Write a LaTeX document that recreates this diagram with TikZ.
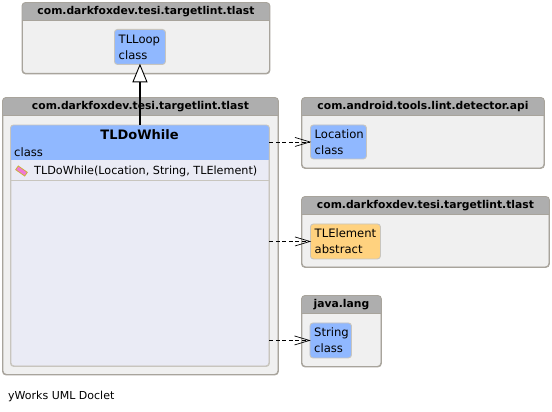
\documentclass[tikz,border=0pt]{standalone}
\usepackage{fontspec}
\setmainfont{DejaVu Sans}
\usepackage{xcolor}
\usetikzlibrary{calc, positioning}
\definecolor{pkghead}{HTML}{AEAEAE}
\definecolor{pkgbody}{HTML}{F0F0F0}
\definecolor{pkgline}{HTML}{A8A49C}
\definecolor{boxline}{HTML}{C8C5BE}
\definecolor{classblue}{HTML}{90B8FF}
\definecolor{abstractorange}{HTML}{FFD27F}
\definecolor{methodlav}{HTML}{EAEBF5}
\tikzset{
    pkgnode/.style = {draw=pkgline, fill=pkgbody, rectangle, rounded corners=0.35em, line width=0.9pt, anchor=north west, inner sep=0pt},
    pkgtitle/.style = {draw=none, fill=none, rectangle, inner sep=0pt, font=\fontsize{10.75}{14}\selectfont\bfseries},
    classnode/.style = {draw=boxline, fill=classblue, rectangle, rounded corners=0.3em, line width=0.9pt, anchor=north west, inner sep=0pt},
    textnode/.style = {draw=none, fill=none, rectangle, inner sep=0pt, anchor=west, align=left, font=\fontsize{11.6}{16}\selectfont},
    realize/.style = {black, line width=1.5pt},
    hollowtip/.style = {draw=black, fill=white, line width=0.9pt},
    depends/.style = {black, line width=0.8pt, dash pattern=on 4pt off 2.5pt},
    openhead/.style = {black, line width=0.7pt}
}
% package: name, corner, size, header height, title
\newcommand{\pkgbox}[5]{%
  \node[pkgnode, minimum width=#3pt, minimum height=#4pt, name=#1] at (#2) {};
  \begin{scope}
    \clip[rounded corners=0.35em] (#1.north west) rectangle (#1.south east);
    \fill[pkghead] (#1.north west) rectangle ($(#1.north east)+(0,18)$);
  \end{scope}
  \draw[pkgline, line width=0.6pt] ($(#1.north west)+(0,18)$) -- ($(#1.north east)+(0,18)$);
  \draw[pkgline, line width=0.9pt, rounded corners=0.35em] (#1.north west) rectangle (#1.south east);
  \node[pkgtitle, name=#1title] at ($(#1.north)+(0,9)$) {#5};
}
\newcommand{\arrowhead}[1]{%
  \draw[openhead] ($(#1)+(-15,-4.5)$) -- (#1) -- ($(#1)+(-15,4.5)$);
}
\begin{document}
\begin{tikzpicture}[x=1pt, y=-1pt]
\useasboundingbox[fill=white] (0,0) rectangle (552,412);
% packages
\pkgbox{pkgtop}{22,2.5}{247}{70.5}{com.darkfoxdev.tesi.targetlint.tlast}
\pkgbox{pkgmain}{2.5,97.5}{275}{276.5}{com.darkfoxdev.tesi.targetlint.tlast}
\pkgbox{pkgapi}{301.5,97.5}{242}{70}{com.android.tools.lint.detector.api}
\pkgbox{pkgelem}{301.5,196.5}{247}{70}{com.darkfoxdev.tesi.targetlint.tlast}
\pkgbox{pkglang}{301.5,295.5}{79}{70.5}{java.lang}
% small classes
\node[classnode, minimum width=51pt, minimum height=35pt, name=loop] at (114,29) {};
\node[textnode, name=looptext] at ($(loop.west)+(4.5,0)$) {TLLoop\\class};
\node[classnode, minimum width=56pt, minimum height=34pt, name=location] at (310,124.5) {};
\node[textnode, name=locationtext] at ($(location.west)+(4.5,0)$) {Location\\class};
\node[classnode, fill=abstractorange, minimum width=70pt, minimum height=35pt, name=element] at (310,223.5) {};
\node[textnode, name=elementtext] at ($(element.west)+(4.5,0)$) {TLElement\\abstract};
\node[classnode, minimum width=41.5pt, minimum height=35pt, name=string] at (309.5,322.5) {};
\node[textnode, name=stringtext] at ($(string.west)+(4.5,0)$) {String\\class};
% main class
\node[classnode, fill=methodlav, minimum width=258pt, minimum height=240.5pt, name=dowhile] at (10.5,125) {};
\begin{scope}
  \clip[rounded corners=0.3em] (dowhile.north west) rectangle (dowhile.south east);
  \fill[classblue] (dowhile.north west) rectangle ($(dowhile.north east)+(0,35)$);
\end{scope}
\draw[boxline, line width=0.9pt] ($(dowhile.north west)+(0,55)$) -- ($(dowhile.north east)+(0,55)$);
\draw[boxline, line width=0.9pt, rounded corners=0.3em] (dowhile.north west) rectangle (dowhile.south east);
\node[textnode, anchor=center, font=\fontsize{13}{16}\selectfont\bfseries, name=dowhiletitle] at (139.5,135) {TLDoWhile};
\node[textnode, name=dowhileclass] at (14,152) {class};
\node[draw={rgb,255:red,205;green,175;blue,60}, fill={rgb,255:red,240;green,120;blue,215}, rectangle, rotate=-35, minimum width=11pt, minimum height=4.5pt, inner sep=0pt, line width=0.8pt, name=pencil] at (21.5,171) {};
\node[textnode, font=\fontsize{11.2}{14}\selectfont, name=dowhilemethod] at (34,171) {TLDoWhile(Location, String, TLElement)};
% footer
\node[textnode, font=\fontsize{11}{14}\selectfont, name=footer] at (8,396) {yWorks UML Doclet};
% connectors
\coordinate (triangleleft) at ($(loop.south)+(-7,17)$);
\coordinate (triangleright) at ($(loop.south)+(7,17)$);
\draw[realize] (dowhile.north) -- ($(loop.south)+(0,17)$);
\draw[hollowtip] (loop.south) -- (triangleleft) -- (triangleright) -- cycle;
\coordinate (useapi) at (dowhile.east |- location.west);
\coordinate (useelem) at (dowhile.east |- element.west);
\coordinate (usestr) at (dowhile.east |- string.west);
\draw[depends] (useapi) -- (location.west);
\arrowhead{location.west}
\draw[depends] (useelem) -- (element.west);
\arrowhead{element.west}
\draw[depends] (usestr) -- (string.west);
\arrowhead{string.west}
\end{tikzpicture}
\end{document}
